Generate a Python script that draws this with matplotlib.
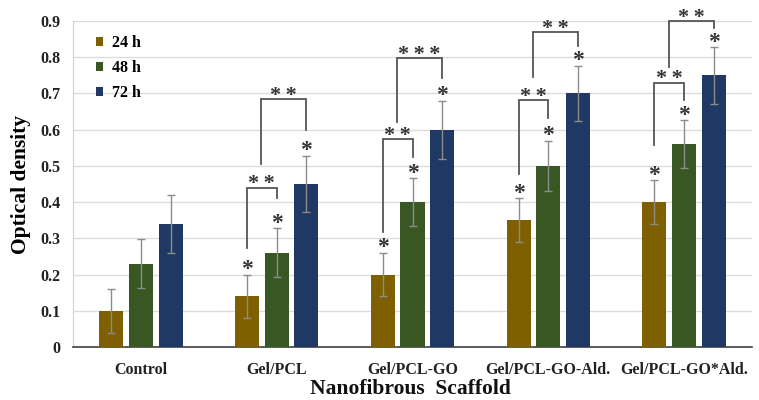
import matplotlib
matplotlib.use("Agg")
import matplotlib.pyplot as plt
import numpy as np

categories = ["Control", "Gel/PCL", "Gel/PCL-GO", "Gel/PCL-GO-Ald.", "Gel/PCL-GO*Ald."]
series_names = ["24 h", "48 h", "72 h"]
values_24 = [0.10, 0.14, 0.20, 0.35, 0.40]
values_48 = [0.23, 0.26, 0.40, 0.50, 0.56]
values_72 = [0.34, 0.45, 0.60, 0.70, 0.75]
err_24 = [0.06, 0.06, 0.06, 0.06, 0.06]
err_48 = [0.068, 0.068, 0.066, 0.07, 0.066]
err_72 = [0.08, 0.078, 0.08, 0.076, 0.078]
# single-star significance markers (1 = show) per series per category
star_24 = [0, 1, 1, 1, 1]
star_48 = [0, 1, 1, 1, 1]
star_72 = [0, 1, 1, 1, 1]
# brackets: (category index, left y-bottom, top y, right y-bottom, label)
lower_brackets = [
    (1, 0.273, 0.44, 0.41, "**"),
    (2, 0.318, 0.574, 0.525, "**"),
    (3, 0.478, 0.682, 0.632, "**"),
    (4, 0.558, 0.73, 0.682, "**"),
]
upper_brackets = [
    (1, 0.505, 0.685, 0.60, "**"),
    (2, 0.62, 0.797, 0.742, "***"),
    (3, 0.746, 0.87, 0.83, "**"),
    (4, 0.774, 0.90, 0.88, "**"),
]

colors = ["#7F6000", "#385723", "#1F3864"]
W, H = 759, 400
fig = plt.figure(figsize=(W / 100, H / 100), dpi=100)
ax = fig.add_axes([73 / W, 1 - 347 / H, (752 - 73) / W, (347 - 21) / H])

serif = ["Liberation Serif", "DejaVu Serif"]
x = np.arange(len(categories))
bw = 0.177
off = 0.219
vals = [values_24, values_48, values_72]
errs = [err_24, err_48, err_72]
stars = [star_24, star_48, star_72]
for i in range(3):
    xs = x + (i - 1) * off
    ax.bar(xs, vals[i], width=bw, color=colors[i], label=series_names[i], zorder=3)
    ax.errorbar(xs, vals[i], yerr=errs[i], fmt="none", ecolor="#8c8c8c",
                elinewidth=1.0, capsize=3, capthick=1.0, zorder=4)
    for j in range(len(categories)):
        if stars[i][j]:
            ax.text(xs[j], vals[i][j] + errs[i][j] + 0.014, "*", ha="center", va="center",
                    fontsize=17, fontweight="bold", family=serif, color="#333333", zorder=5)

bcol = "#555555"
def draw_bracket(xl, xr, yl, yt, yr, lab):
    ax.plot([xl, xl, xr, xr], [yl, yt, yt, yr], color=bcol, lw=1.3, zorder=5,
            clip_on=False, solid_joinstyle="miter")
    ax.text((xl + xr) / 2, yt + 0.009, "\u2009".join(lab), ha="center", va="center",
            fontsize=16, fontweight="bold", family=serif, color="#333333", zorder=5,
            clip_on=False)

for (c, yl, yt, yr, lab) in lower_brackets:
    draw_bracket(c - off, c, yl, yt, yr, lab)
for (c, yl, yt, yr, lab) in upper_brackets:
    draw_bracket(c - off / 2 - 0.005, c + off, yl, yt, yr, lab)

ax.set_xlim(-0.5, len(categories) - 0.5)
ax.set_ylim(0, 0.9)
ax.set_yticks(np.arange(0, 0.91, 0.1))
ax.set_yticklabels(["0"] + [f"{v:.1f}" for v in np.arange(0.1, 0.91, 0.1)])
ax.set_xticks(x)
ax.set_xticklabels(categories)
ax.grid(axis="y", color="#dcdcdc", lw=1.0, zorder=0)
ax.set_axisbelow(True)
for s in ["top", "right"]:
    ax.spines[s].set_visible(False)
ax.spines["left"].set_color("#d0d0d0")
ax.spines["bottom"].set_color("#404040")
ax.spines["bottom"].set_linewidth(1.2)
ax.tick_params(axis="both", length=0)
ax.tick_params(axis="y", pad=9)
ax.tick_params(axis="x", pad=11)
for lbl in ax.get_yticklabels():
    lbl.set_family(serif); lbl.set_fontweight("bold"); lbl.set_fontsize(11.5); lbl.set_color("#222222")
for lbl in ax.get_xticklabels():
    lbl.set_family(serif); lbl.set_fontweight("bold"); lbl.set_fontsize(11.5); lbl.set_color("#222222")

ax.set_ylabel("Optical density", family=serif, fontweight="bold", fontsize=15.5, labelpad=7)
fig.text(410 / W, 1 - 389 / H, "Nanofibrous  Scaffold", ha="center", va="center",
         family=serif, fontweight="bold", fontsize=15.5, color="#111111")

leg = ax.legend(loc="upper left", bbox_to_anchor=(0.012, 1.0), frameon=False,
                handlelength=0.45, handleheight=0.45, handletextpad=0.6, labelspacing=0.55,
                prop={"family": serif, "weight": "bold", "size": 11.5})

fig.savefig("out.png", dpi=100)
